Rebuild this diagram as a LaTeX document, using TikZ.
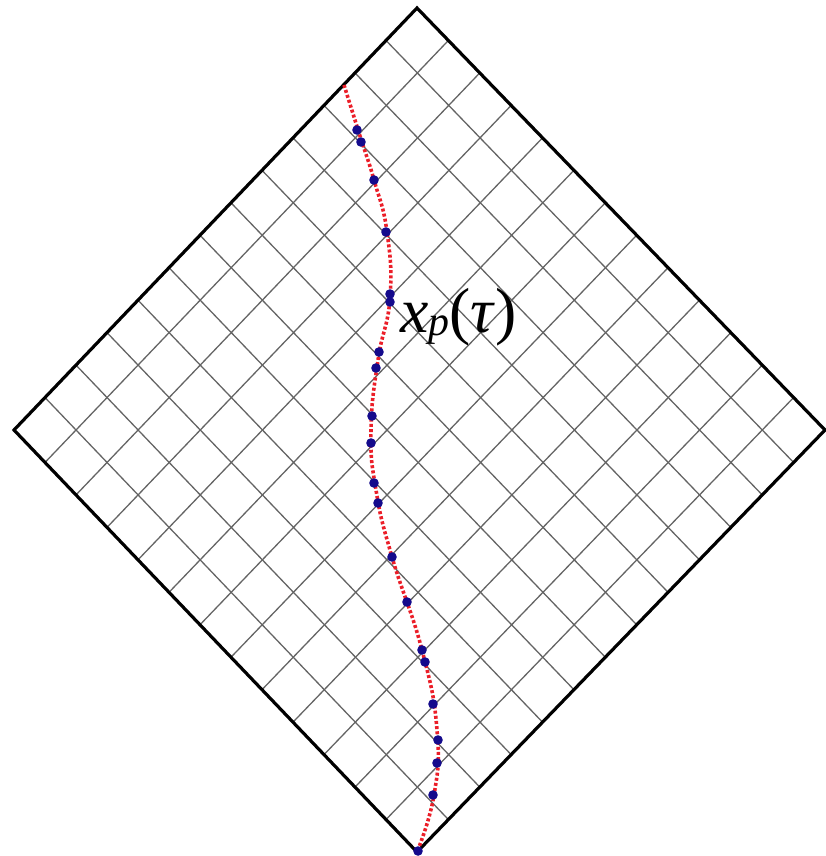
\documentclass[tikz,border=0pt]{standalone}
\usepackage{fontspec}
\setmainfont{Liberation Serif}
\usetikzlibrary{calc}
\definecolor{fg}{RGB}{0,0,0}
\definecolor{mu}{RGB}{100,100,100}
\definecolor{wl}{RGB}{235,30,40}
\definecolor{pt}{RGB}{20,10,140}
\tikzset{
  every picture/.style={fg, line cap=round, line join=round},
  % Linientypen
  rim/.style={line width=3.2pt, line join=miter, line cap=butt},
  net/.style={mu, line width=1.3pt},
  wline/.style={wl, line width=3.6pt, line cap=butt, dash pattern=on 3pt off 2.2pt},
  % Punkte auf der Weltlinie
  pdot/.style={pt},
  lbl/.style={inner sep=0pt, anchor=base west, font=\fontsize{64}{70}\selectfont},
}

\begin{document}
\begin{tikzpicture}[x=1bp, y=-1bp]
  \useasboundingbox (0,0) rectangle (826,856);
  \def\n{13}
  % Ecken des Diagramms
  \coordinate (T) at (417,8);
  \coordinate (L) at (14,430);
  \coordinate (R) at (825,430);
  \coordinate (B) at (417,852);
  % Lichtkegel-Gitter
  \foreach \i in {1,...,12} {
    \draw[net] ($(L)!\i/\n!(T)$) -- ($(B)!\i/\n!(R)$);
    \draw[net] ($(L)!\i/\n!(B)$) -- ($(T)!\i/\n!(R)$);
  }
  \draw[rim] (T) -- (R) -- (B) -- (L) -- cycle;
  % Weltlinie
  \draw[wline] plot[smooth, tension=0.8] coordinates {(344,85) (360,136) (374,180) (387,232)
    (390,298) (378,360) (371,430) (376,490) (392,557) (422,650)
    (437,730) (434,795) (417,852)};
  \foreach \x/\y in {357/130, 361/142, 374/180, 386/232, 390/294, 390/302, 379/352, 376/368,
    372/416, 371/443, 374/483, 378/503, 392/557, 407/602, 422/650, 425/662, 433/704,
    438/740, 437/763, 433/795, 418/851}
    \fill[pdot] (\x,\y) circle[radius=4.8];
  \node[lbl] (xp) at (400,332) {\textit{x}\raisebox{-3bp}{\fontsize{42}{46}\selectfont\textit{p}}(\textit{τ})};
\end{tikzpicture}
\end{document}
